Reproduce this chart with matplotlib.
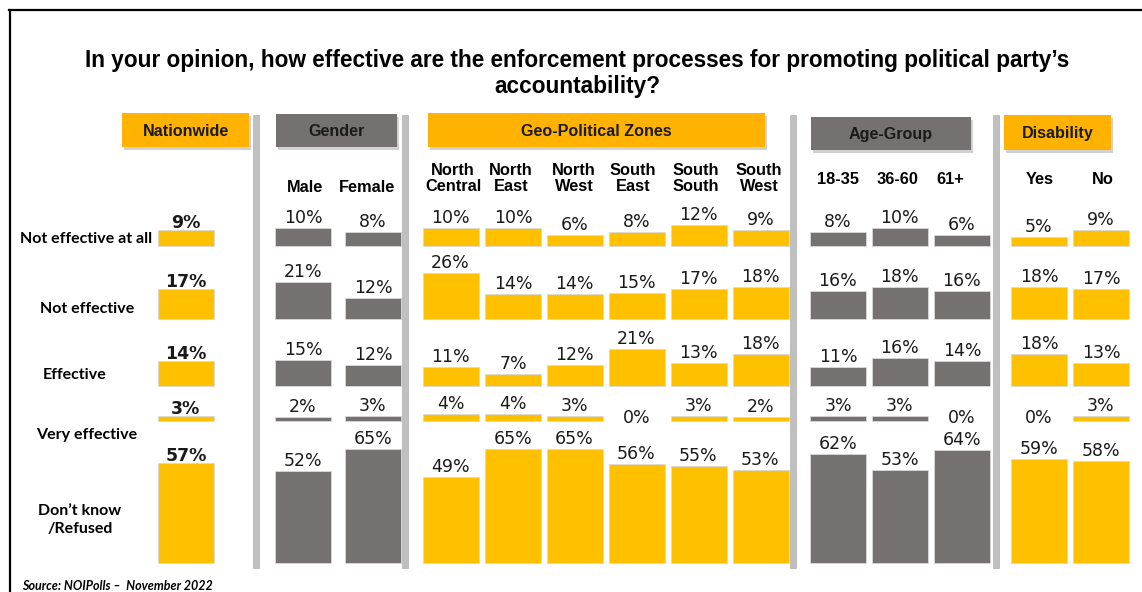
import matplotlib.pyplot as plt
from matplotlib.patches import Rectangle

# Datos de la encuesta (porcentajes por respuesta)
respuestas = ["Not effective at all", "Not effective", "Effective",
              "Very effective", "Don\u2019t know\n/Refused"]

columnas = ["Nationwide", "Male", "Female",
            "North\nCentral", "North\nEast", "North\nWest",
            "South\nEast", "South\nSouth", "South\nWest",
            "18-35", "36-60", "61+", "Yes", "No"]

nationwide = [9, 17, 14, 3, 57]
male = [10, 21, 15, 2, 52]
female = [8, 12, 12, 3, 65]
north_central = [10, 26, 11, 4, 49]
north_east = [10, 14, 7, 4, 65]
north_west = [6, 14, 12, 3, 65]
south_east = [8, 15, 21, 0, 56]
south_south = [12, 17, 13, 3, 55]
south_west = [9, 18, 18, 2, 53]
age_18_35 = [8, 16, 11, 3, 62]
age_36_60 = [10, 18, 16, 3, 53]
age_61 = [6, 16, 14, 0, 64]
dis_yes = [5, 18, 18, 0, 59]
dis_no = [9, 17, 13, 3, 58]

valores = [nationwide, male, female, north_central, north_east, north_west,
           south_east, south_south, south_west, age_18_35, age_36_60, age_61,
           dis_yes, dis_no]

grupos = ["Nationwide", "Gender", "Geo-Political Zones", "Age-Group", "Disability"]

# Colores
NARANJA = "#FFC000"
NARANJA_CAB = "#FFB300"
GRIS = "#767171"
colores = [NARANJA, GRIS, GRIS] + [NARANJA] * 6 + [GRIS] * 3 + [NARANJA] * 2

# Disposición en píxeles
W, H = 1142, 592
x_cols = [186, 303, 373, 450.5, 513, 574.5, 636.5, 698.5, 760.5,
          838, 899.5, 962, 1039, 1101]
ancho = 56
bases = [246, 319, 386, 421, 563]
px_por_pct = 1.76

fig = plt.figure(figsize=(W / 100, H / 100), dpi=100)
ax = fig.add_axes([0, 0, 1, 1])
ax.set_xlim(0, W)
ax.set_ylim(H, 0)
ax.axis("off")

F_TIT = ["Liberation Sans", "DejaVu Sans"]
F_TXT = ["Lato", "DejaVu Sans"]
F_NUM = ["DejaVu Sans"]

# Marco
ax.plot([9, W], [10, 10], color="black", lw=1.6)
ax.plot([10, 10], [10, H], color="black", lw=1.6)

# Título
ax.text(577, 60, "In your opinion, how effective are the enforcement processes for promoting political party\u2019s",
        ha="center", va="center", fontsize=16.3, fontweight="bold", family=F_TIT)
ax.text(577, 86, "accountability?", ha="center", va="center",
        fontsize=16.3, fontweight="bold", family=F_TIT)

# Separadores verticales
for xs in [256, 405, 793, 996]:
    ax.add_patch(Rectangle((xs - 3, 115), 6, 453, facecolor="#C0C0C0",
                           edgecolor="#B0B0B0", lw=0.5))

# Cajas de cabecera
cajas = [(122, 113, 127, 34, NARANJA_CAB),
         (276, 114, 121, 33, GRIS),
         (428, 113, 337, 34, NARANJA_CAB),
         (811, 117, 160, 33, GRIS),
         (1004, 115, 107, 35, NARANJA_CAB)]
for nombre, (bx, by, bw, bh, c) in zip(grupos, cajas):
    ax.add_patch(Rectangle((bx + 2, by + 3), bw, bh, facecolor="#999999",
                           alpha=0.45, lw=0))
    ax.add_patch(Rectangle((bx, by), bw, bh, facecolor=c, lw=0))
    ax.text(bx + bw / 2, by + bh / 2 + 1, nombre, ha="center", va="center",
            fontsize=11.6, fontweight="bold", family=F_TIT, color="#1a1a1a")

# Subcabeceras de columnas
sub_y = {1: 188, 2: 188, 9: 180, 10: 180, 11: 180, 12: 180, 13: 180}
sub_x = {1: 305, 2: 367, 3: 453, 4: 511, 5: 574, 6: 633, 7: 696, 8: 759,
         9: 838, 10: 898, 11: 950, 12: 1040, 13: 1103}
for i, nombre in enumerate(columnas):
    if i == 0:
        continue
    y = sub_y.get(i, 178.5)
    ax.text(sub_x[i], y, nombre, ha="center", va="center", fontsize=11.8,
            fontweight="bold", family=F_TIT, linespacing=1.12)

# Etiquetas de filas
etiq_pos = [(86, 239), (87, 309), (75, 375), (87, 435), (80, 520)]
for texto, (lx, ly) in zip(respuestas, etiq_pos):
    ax.text(lx, ly, texto, ha="center", va="center", fontsize=11.5,
            fontweight="bold", family=F_TXT, linespacing=1.45)

# Barras y valores
for i, (xc, vals, c) in enumerate(zip(x_cols, valores, colores)):
    alturas = [v * px_por_pct for v in vals]
    bordes = [0.6 if v > 0 else 0 for v in vals]
    ax.bar([xc] * len(vals), [-h for h in alturas], bottom=bases, width=ancho,
           color=c, edgecolor="#D9D9D9", linewidth=bordes)
    peso = "bold" if i == 0 else "normal"
    desfase = 2 if i == 0 else -1
    for v, h, b in zip(vals, alturas, bases):
        if v == 0:
            ax.text(xc, b - 3, f"{v}%", ha="center", va="center", fontsize=12.5,
                    family=F_NUM, fontweight=peso, color="#1a1a1a")
        else:
            ax.text(xc, b - h + desfase, f"{v}%", ha="center", va="bottom",
                    fontsize=12.5, family=F_NUM, fontweight=peso, color="#1a1a1a")

# Fuente
ax.text(22, 586, "Source: NOIPolls \u2013  November 2022", ha="left", va="center",
        fontsize=9, fontweight="bold", fontstyle="italic", family=F_TXT)

fig.savefig("out.png", dpi=100)
